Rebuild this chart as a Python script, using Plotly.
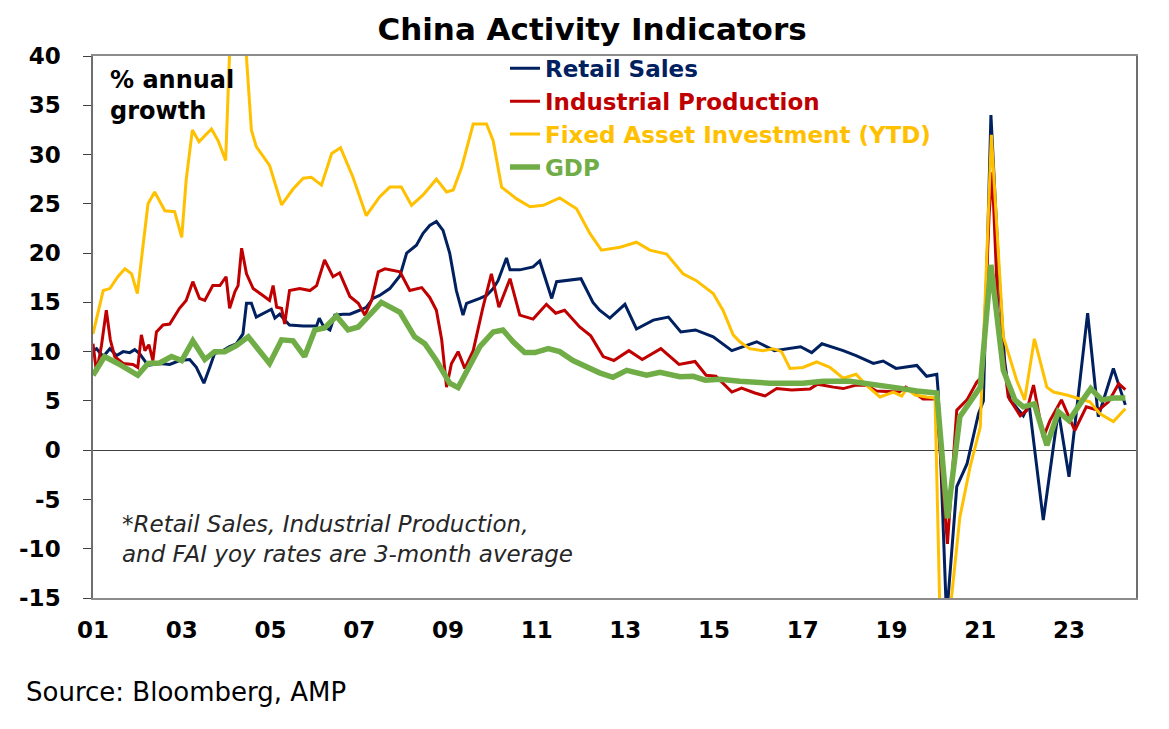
import plotly.graph_objects as go

# Retail sales, % yoy (3-month average)
rs_x = [2001.00, 2001.08, 2001.23, 2001.38, 2001.53, 2001.68, 2001.83, 2001.94, 2002.05, 2002.24,
        2002.50, 2002.73, 2002.95, 2003.18, 2003.33, 2003.50, 2003.63, 2003.74, 2003.93, 2004.08,
        2004.23, 2004.38, 2004.46, 2004.57, 2004.68, 2004.91, 2005.02, 2005.10, 2005.21, 2005.32,
        2005.43, 2005.74, 2006.04, 2006.10, 2006.19, 2006.34, 2006.45, 2006.64, 2006.79, 2007.01,
        2007.16, 2007.31, 2007.46, 2007.69, 2007.92, 2008.07, 2008.29, 2008.44, 2008.59, 2008.74,
        2008.89, 2009.04, 2009.19, 2009.34, 2009.42, 2009.72, 2009.87, 2010.02, 2010.13, 2010.32,
        2010.40, 2010.62, 2010.92, 2011.07, 2011.34, 2011.45, 2012.00, 2012.27, 2012.42, 2012.65,
        2012.99, 2013.25, 2013.63, 2013.97, 2014.25, 2014.58, 2014.98, 2015.40, 2015.96, 2016.36,
        2016.95, 2017.20, 2017.43, 2017.91, 2018.20, 2018.59, 2018.81, 2019.10, 2019.57, 2019.79,
        2020.02, 2020.05, 2020.24, 2020.47, 2020.70, 2020.96, 2021.07, 2021.24, 2021.42, 2021.55,
        2021.67, 2021.97, 2022.10, 2022.42, 2022.76, 2023.00, 2023.42, 2023.66, 2024.00, 2024.27]
rs_y = [10.1, 10.3, 9.5, 10.3, 9.6, 10.0, 9.9, 10.2, 9.8, 8.6,
        8.8, 8.7, 9.1, 9.2, 8.4, 6.8, 8.4, 9.8, 10.1, 10.5,
        10.8, 11.8, 14.9, 14.9, 13.5, 14.0, 14.3, 13.4, 13.8, 13.2,
        12.7, 12.6, 12.6, 13.4, 12.6, 12.2, 13.7, 13.8, 13.8, 14.2,
        14.5, 15.4, 15.7, 16.4, 17.7, 20.0, 20.8, 22.0, 22.8, 23.2,
        22.3, 20.0, 16.2, 13.7, 14.9, 15.4, 15.7, 16.4, 17.2, 19.5,
        18.3, 18.3, 18.6, 19.2, 15.4, 17.1, 17.4, 15.0, 14.2, 13.4,
        14.8, 12.3, 13.2, 13.5, 12.0, 12.2, 11.5, 10.1, 11.0, 10.1,
        10.5, 9.9, 10.8, 10.1, 9.6, 8.8, 9.05, 8.3, 8.6, 7.5,
        7.7, 6.0, -17.0, -3.7, -1.4, 3.7, 5.0, 34.0, 18.0, 9.0,
        5.1, 3.5, 4.7, -7.1, 4.0, -2.7, 13.9, 3.4, 8.3, 4.6]

# Industrial production, % yoy (3-month average)
ip_x = [2001.00, 2001.08, 2001.19, 2001.30, 2001.39, 2001.49, 2001.68, 2001.90, 2002.01, 2002.09,
        2002.17, 2002.26, 2002.35, 2002.43, 2002.58, 2002.73, 2002.95, 2003.10, 2003.25, 2003.40,
        2003.52, 2003.70, 2003.86, 2004.00, 2004.08, 2004.20, 2004.27, 2004.35, 2004.46, 2004.61,
        2004.83, 2004.98, 2005.06, 2005.14, 2005.25, 2005.32, 2005.43, 2005.66, 2005.89, 2006.04,
        2006.22, 2006.41, 2006.56, 2006.79, 2006.98, 2007.13, 2007.28, 2007.43, 2007.58, 2007.92,
        2008.14, 2008.41, 2008.59, 2008.74, 2008.86, 2008.97, 2009.08, 2009.23, 2009.38, 2009.57,
        2009.79, 2009.98, 2010.15, 2010.40, 2010.62, 2010.92, 2011.22, 2011.43, 2011.63, 2011.97,
        2012.22, 2012.50, 2012.74, 2013.08, 2013.38, 2013.80, 2014.21, 2014.57, 2014.82, 2015.04,
        2015.40, 2015.62, 2015.92, 2016.15, 2016.41, 2016.75, 2017.16, 2017.33, 2017.69, 2017.91,
        2018.20, 2018.43, 2018.66, 2018.95, 2019.17, 2019.32, 2019.53, 2019.71, 2019.86, 2020.00,
        2020.26, 2020.47, 2020.70, 2020.92, 2021.05, 2021.20, 2021.27, 2021.40, 2021.63, 2021.90,
        2022.05, 2022.20, 2022.42, 2022.57, 2022.83, 2023.13, 2023.39, 2023.66, 2023.89, 2024.12,
        2024.27]
ip_y = [10.8, 7.9, 10.6, 14.2, 11.2, 9.5, 8.8, 8.7, 8.4, 11.7,
        10.1, 10.7, 9.1, 12.0, 12.7, 12.8, 14.4, 15.2, 17.1, 15.4,
        15.2, 16.7, 16.7, 17.6, 14.4, 16.1, 16.7, 20.5, 17.9, 16.4,
        15.7, 15.2, 16.7, 14.5, 14.4, 12.8, 16.2, 16.4, 16.2, 16.7,
        19.3, 17.6, 18.0, 15.6, 14.9, 13.7, 15.2, 18.1, 18.4, 18.1,
        16.2, 16.5, 15.5, 14.2, 11.2, 6.4, 8.8, 10.0, 8.3, 10.1,
        14.5, 17.9, 14.5, 17.4, 13.7, 13.3, 14.8, 13.9, 14.2, 12.5,
        11.6, 9.5, 9.1, 10.1, 9.2, 10.3, 8.7, 9.0, 7.6, 7.5,
        5.9, 6.3, 5.8, 5.5, 6.25, 6.1, 6.2, 6.7, 6.4, 6.25,
        6.6, 6.6, 6.0, 5.9, 5.9, 6.4, 5.75, 5.2, 5.2, 5.2,
        -9.5, 4.05, 5.1, 6.9, 7.5, 24.0, 28.2, 14.0, 5.4, 3.5,
        4.05, 6.6, 1.3, 3.0, 5.1, 2.0, 4.4, 4.05, 4.9, 6.75,
        6.15]

# Fixed asset investment, % yoy year-to-date
fai_x = [2001.00, 2001.23, 2001.38, 2001.56, 2001.72, 2001.87, 2002.00, 2002.24, 2002.39, 2002.62,
         2002.84, 2003.00, 2003.10, 2003.24, 2003.39, 2003.67, 2003.82, 2003.99, 2004.08, 2004.17,
         2004.33, 2004.45, 2004.57, 2004.68, 2004.98, 2005.25, 2005.51, 2005.74, 2005.92, 2006.15,
         2006.38, 2006.58, 2006.86, 2007.16, 2007.46, 2007.69, 2007.95, 2008.18, 2008.44, 2008.74,
         2008.97, 2009.12, 2009.31, 2009.57, 2009.87, 2010.02, 2010.21, 2010.55, 2010.85, 2011.15,
         2011.52, 2011.90, 2012.20, 2012.46, 2012.88, 2013.25, 2013.55, 2013.93, 2014.30, 2014.60,
         2014.98, 2015.20, 2015.43, 2015.58, 2015.80, 2016.10, 2016.33, 2016.52, 2016.71, 2017.00,
         2017.31, 2017.61, 2017.91, 2018.20, 2018.43, 2018.74, 2019.04, 2019.23, 2019.34, 2019.53,
         2019.79, 2019.98, 2020.13, 2020.25, 2020.35, 2020.54, 2020.77, 2021.00, 2021.25, 2021.52,
         2021.82, 2022.00, 2022.22, 2022.50, 2022.65, 2022.95, 2023.25, 2023.47, 2023.70, 2024.00,
         2024.27]
fai_y = [11.8, 16.2, 16.4, 17.6, 18.4, 17.9, 15.9, 25.0, 26.2, 24.3,
         24.2, 21.6, 27.4, 32.5, 31.3, 32.6, 31.4, 29.4, 40.5, 53.0,
         47.0, 40.5, 32.5, 30.8, 28.9, 24.9, 26.5, 27.6, 27.7, 26.9,
         30.1, 30.7, 27.7, 23.8, 25.7, 26.7, 26.7, 24.85, 25.9, 27.5,
         26.2, 26.4, 28.7, 33.1, 33.1, 31.4, 26.7, 25.5, 24.7, 24.85,
         25.6, 24.5, 22.0, 20.3, 20.6, 21.1, 20.3, 19.9, 17.9, 17.2,
         15.9, 14.2, 11.7, 11.0, 10.3, 10.1, 10.3, 10.0, 8.3, 8.4,
         8.95, 8.4, 7.3, 7.7, 6.6, 5.4, 5.9, 5.5, 6.25, 5.6,
         5.4, 5.3, -24.5, -20.0, -15.0, -6.8, -1.7, 2.35, 32.0, 11.5,
         7.1, 5.1, 11.3, 6.4, 5.9, 5.6, 5.2, 4.9, 3.7, 2.9,
         4.2]

# Real GDP, % yoy (quarterly)
gdp_x = [2001.00, 2001.26, 2001.56, 2002.01, 2002.24, 2002.50, 2002.77, 2003.00, 2003.25, 2003.52,
         2003.74, 2003.97, 2004.23, 2004.50, 2004.98, 2005.25, 2005.51, 2005.77, 2006.00, 2006.22,
         2006.49, 2006.75, 2006.98, 2007.50, 2007.92, 2008.25, 2008.48, 2008.74, 2009.04, 2009.23,
         2009.72, 2010.02, 2010.24, 2010.47, 2010.73, 2010.96, 2011.26, 2011.52, 2011.82, 2012.12,
         2012.42, 2012.72, 2013.03, 2013.48, 2013.78, 2014.23, 2014.53, 2014.80, 2015.13, 2015.58,
         2016.26, 2017.00, 2017.46, 2018.06, 2018.43, 2018.81, 2019.17, 2019.57, 2020.02, 2020.26,
         2020.54, 2020.77, 2021.00, 2021.24, 2021.52, 2021.78, 2021.97, 2022.22, 2022.50, 2022.76,
         2023.00, 2023.25, 2023.49, 2023.74, 2024.00, 2024.27]
gdp_y = [7.6, 9.5, 8.8, 7.6, 8.8, 8.85, 9.5, 9.1, 11.1, 9.2,
         10.0, 10.0, 10.6, 11.5, 8.8, 11.2, 11.1, 9.5, 12.2, 12.4,
         13.6, 12.2, 12.5, 15.0, 14.0, 11.5, 10.8, 9.1, 6.8, 6.35,
         10.5, 12.0, 12.2, 11.0, 9.9, 9.9, 10.3, 10.0, 9.1, 8.4,
         7.85, 7.4, 8.1, 7.6, 7.9, 7.45, 7.5, 7.1, 7.2, 7.0,
         6.8, 6.8, 7.0, 7.0, 6.8, 6.5, 6.3, 6.0, 5.8, -6.9,
         3.4, 4.9, 6.4, 18.8, 8.1, 5.1, 4.4, 4.7, 0.5, 3.9,
         3.0, 4.7, 6.25, 5.1, 5.3, 5.3]

year_ticks = [2001, 2003, 2005, 2007, 2009, 2011, 2013, 2015, 2017, 2019, 2021, 2023]
year_labels = ['01', '03', '05', '07', '09', '11', '13', '15', '17', '19', '21', '23']
y_ticks = [-15, -10, -5, 0, 5, 10, 15, 20, 25, 30, 35, 40]
y_labels = ['-15', '-10', '-5', '0', '5', '10', '15', '20', '25', '30', '35', '40']

font_family = 'DejaVu Sans'
navy = '#002060'
red = '#C00000'
gold = '#FFC000'
green = '#70AD47'

series = [
    ('Retail Sales', rs_x, rs_y, navy, 3),
    ('Industrial Production', ip_x, ip_y, red, 3),
    ('Fixed Asset Investment (YTD)', fai_x, fai_y, gold, 3),
    ('GDP', gdp_x, gdp_y, green, 5.5),
]

fig = go.Figure()
for name, xs, ys, color, width in series:
    fig.add_trace(go.Scatter(
        x=xs, y=ys, mode='lines',
        name="<span style='color:%s'>%s</span>" % (color, name),
        line=dict(color=color, width=width),
    ))

x_range = [2001, 2024.51]

# the page body adds an 8px offset, so margins are trimmed to compensate
fig.update_layout(
    width=1169, height=729,
    margin=dict(l=85, r=41, t=48, b=139),
    paper_bgcolor='white', plot_bgcolor='white',
    font=dict(family=font_family, color='black'),
    title=dict(text='China Activity Indicators', x=0.4996, xanchor='center',
               y=1 - 21 / 729, yanchor='middle',
               font=dict(size=31, weight='bold', color='black')),
    showlegend=True,
    legend=dict(x=0.395, y=1.017, xanchor='left', yanchor='top',
                bgcolor='rgba(0,0,0,0)', font=dict(size=23, weight='bold'),
                itemwidth=30, tracegroupgap=0),
    xaxis=dict(range=x_range, tickvals=year_ticks, ticktext=year_labels,
               ticks='', showgrid=False, zeroline=False,
               showline=True, mirror=True, linecolor='#8c8c8c', linewidth=1.5,
               tickfont=dict(size=23, weight='bold', color='black'),
               ticklabelstandoff=11),
    xaxis2=dict(range=x_range, overlaying='x', anchor='free', position=15 / 55,
                tickvals=year_ticks, ticks='outside', ticklen=7, tickcolor='#404040',
                showticklabels=False, showgrid=False, zeroline=False,
                showline=True, linecolor='#404040', linewidth=1.2),
    yaxis=dict(range=[-15, 40], tickvals=y_ticks, ticktext=y_labels,
               ticks='outside', ticklen=8,
               tickcolor='#404040', showgrid=False,
               zeroline=True, zerolinecolor='#404040', zerolinewidth=1.2,
               showline=True, mirror=True, linecolor='#6e6e6e', linewidth=1.5,
               tickfont=dict(size=23, weight='bold', color='black'),
               ticklabelstandoff=18),
)

fig.add_annotation(text='% annual<br>growth', xref='paper', yref='paper',
                   x=0.014, y=0.985, xanchor='left', yanchor='top', align='left',
                   showarrow=False, font=dict(size=24, weight='bold', color='black'))
fig.add_annotation(text='<i>*Retail Sales, Industrial Production,<br>'
                        'and FAI yoy rates are 3-month average</i>',
                   xref='paper', yref='paper', x=0.026, y=0.109,
                   xanchor='left', yanchor='middle', align='left',
                   showarrow=False, font=dict(size=23, color='#262626'))
fig.add_annotation(text='Source: Bloomberg, AMP', xref='paper', yref='paper',
                   x=-0.066, y=-0.173, xanchor='left', yanchor='middle',
                   showarrow=False, font=dict(size=26, color='black'))

fig.write_html('out.html')
